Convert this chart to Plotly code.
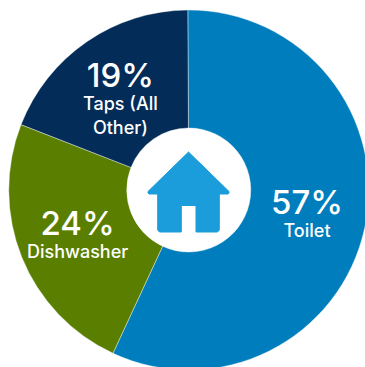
import plotly.graph_objects as go

categories = ["Toilet", "Dishwasher", "Taps (All<br>Other)"]
shares = [57, 24, 19]
slice_colors = ["#007dbc", "#5a7f00", "#042c58"]
label_centres = [(307, 212), (77, 232), (120, 96)]

W, H = 378, 380


def px(x):
    return x / W


def py(y):
    return 1 - y / H


def house_path():
    # Rounded-corner house outline with a door cut out of the base
    pts = [
        (188.5, 152), (229, 191.5), (229, 193), (228, 194), (219.3, 194),
        (219.3, 230), (217.5, 232), (196, 232), (196, 205.5), (181.3, 205.5),
        (181.3, 232), (159.5, 232), (157.7, 230), (157.7, 194), (149, 194),
        (148, 193), (148, 191.5),
    ]
    return "M " + " L ".join(f"{px(x):.5f},{py(y):.5f}" for x, y in pts) + " Z"


fig = go.Figure(
    go.Pie(
        labels=categories,
        values=shares,
        sort=False,
        direction="clockwise",
        rotation=-0.3,
        hole=62 / 180,
        marker=dict(colors=slice_colors, line=dict(color="#ffffff", width=0.4)),
        textinfo="none",
        showlegend=False,
        domain=dict(x=[8.5 / W, 369 / W], y=[10 / H, 370 / H]),
    )
)

fig.add_shape(
    type="path", xref="paper", yref="paper", path=house_path(),
    fillcolor="#1b9ddb", line=dict(color="#1b9ddb", width=1),
)

for name, share, (cx, cy) in zip(categories, shares, label_centres):
    fig.add_annotation(
        x=px(cx), y=py(cy), xref="paper", yref="paper", showarrow=False,
        text=f"<span style='font-size:33px'>{share}%</span><br>{name}",
        align="center", xanchor="center", yanchor="middle",
        font=dict(family="Inter", size=18, color="#ffffff", weight=500),
    )

fig.update_layout(
    width=W, height=H, autosize=False,
    margin=dict(l=0, r=0, t=0, b=0, pad=0),
    paper_bgcolor="#ffffff",
)

fig.write_html(
    "out.html",
    config={"displayModeBar": False},
    post_script="document.documentElement.style.overflow='hidden';document.body.style.overflow='hidden';",
)
